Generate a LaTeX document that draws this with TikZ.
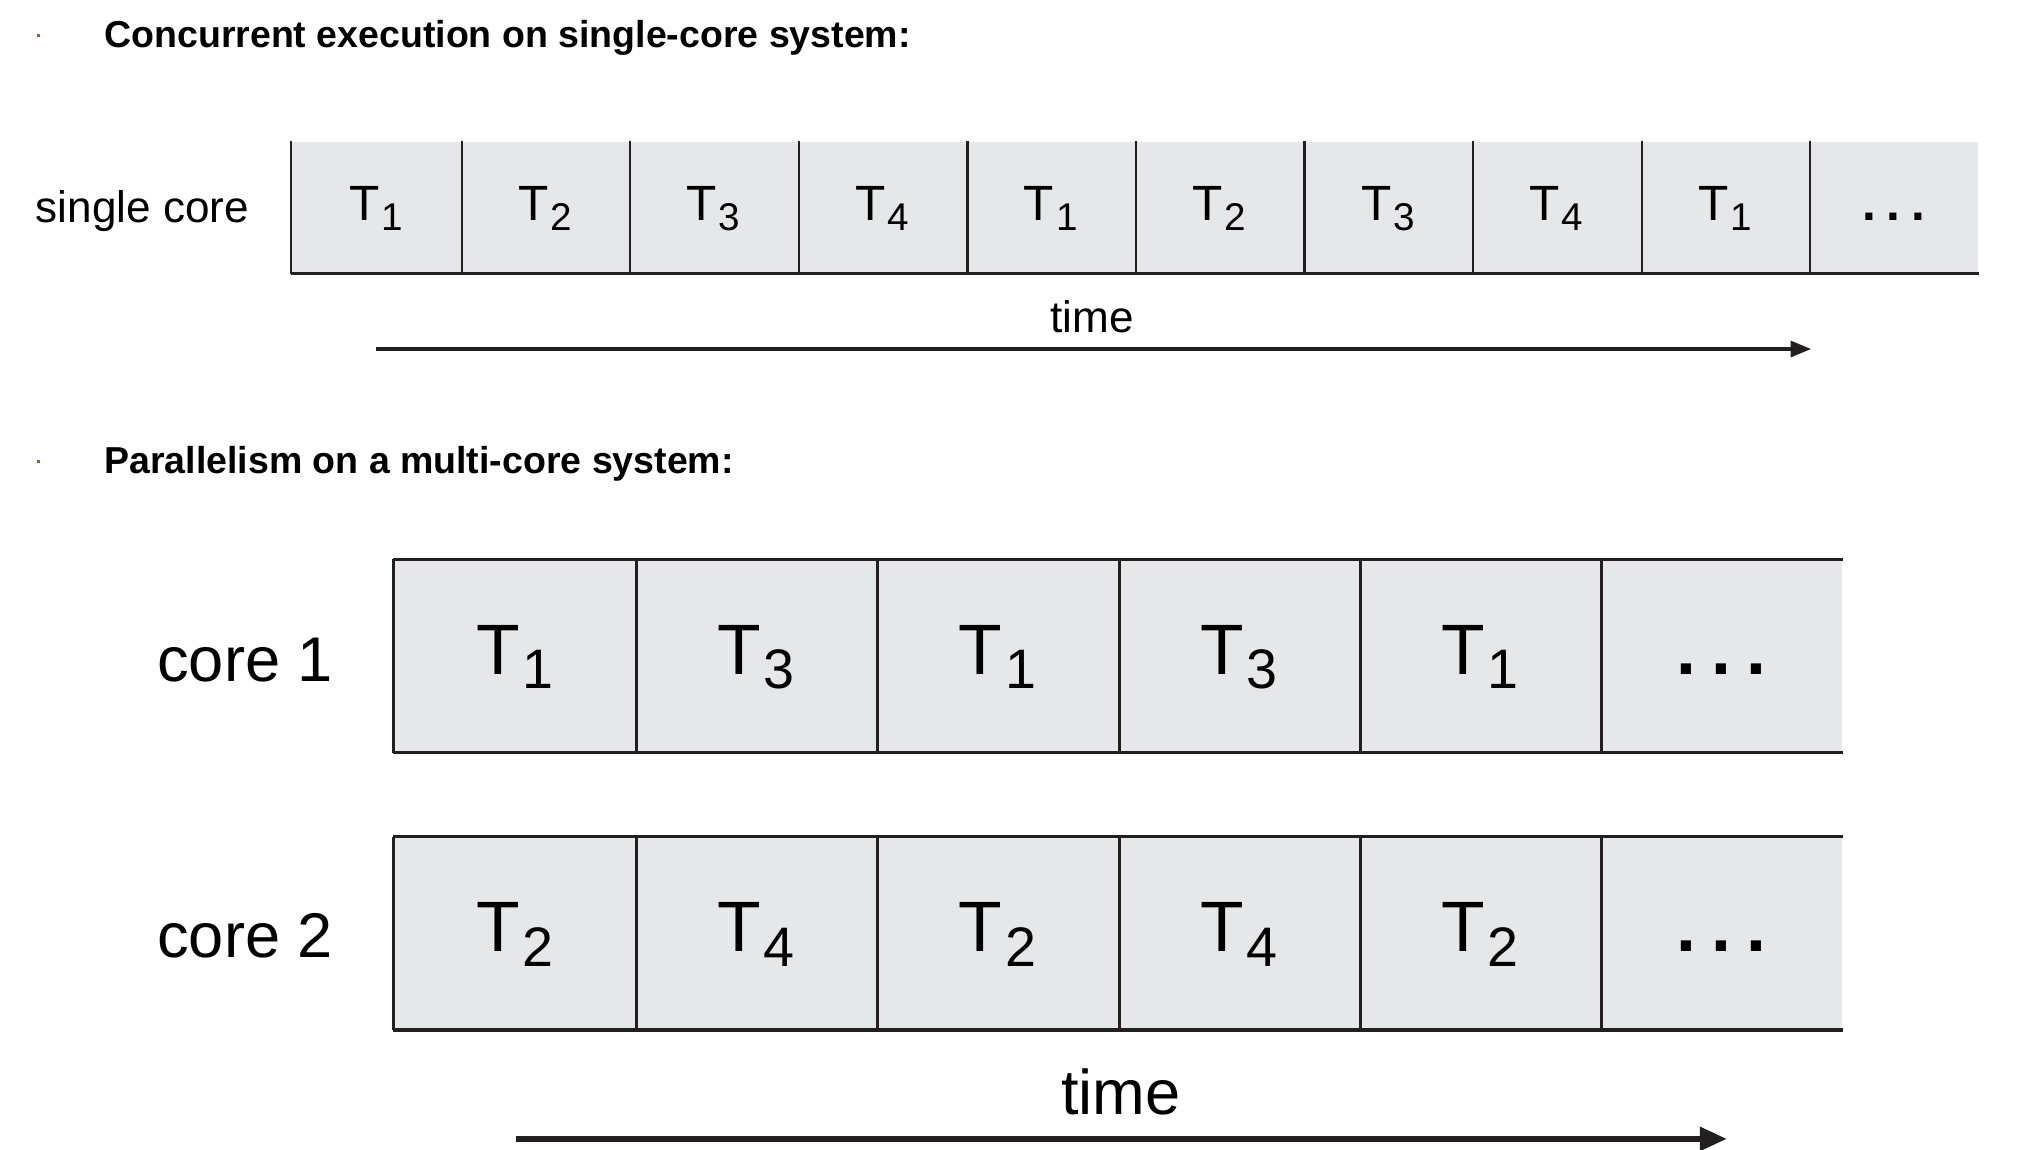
\documentclass[tikz,border=0pt]{standalone}
\usepackage{fontspec}
\setmainfont{Liberation Sans}
\usepackage{graphicx}
\usetikzlibrary{arrows.meta}
\definecolor{figline}{RGB}{35,31,32}
\definecolor{figcell}{RGB}{230,231,232}
\definecolor{figbullet}{RGB}{176,84,36}
\newcommand{\thr}[1]{T\hspace{0.04em}\raisebox{-0.2em}{\scalebox{0.78}{#1}}}
\newcommand{\dotsrow}[1]{\textbf{.\hspace{#1}.\hspace{#1}.}}
\tikzset{
  sc/.style   ={draw=figline, line width=0.5pt},
  scb/.style  ={draw=figline, line width=0.75pt},
  mc/.style   ={draw=figline, line width=0.7pt},
  cellsc/.style={fill=figcell, inner sep=0pt, minimum width=1.304cm, minimum height=1.01cm,
    text height=7.85pt, text depth=2.2pt, font=\fontsize{10.9}{12}\selectfont},
  cellmc/.style={fill=figcell, inner sep=0pt, minimum width=1.8667cm, minimum height=1.48cm,
    text height=11.3pt, text depth=3.1pt, font=\fontsize{15.7}{18}\selectfont},
  ttl/.style  ={font=\fontsize{8.25}{10}\selectfont\bfseries, inner sep=0pt, anchor=base west},
  lab/.style  ={font=\fontsize{9.7}{12}\selectfont, inner sep=0pt},
  labb/.style ={font=\fontsize{13.9}{16}\selectfont, inner sep=0pt},
  ptr/.style  ={draw=figline, line width=0.7pt, -{Triangle[length=4.5pt,width=3.5pt]}},
  ptrb/.style ={draw=figline, line width=1.4pt, -{Triangle[length=6pt,width=5pt]}},
}
\begin{document}
\begin{tikzpicture}[x=0.01cm, y=-0.01cm]
  \useasboundingbox (0,0) rectangle (1568,889);
  % headings
  \fill[figbullet] (29,26.5) rectangle (31,29);
  \node[ttl] (hd1) at (80,37) {Concurrent execution on single-core system:};
  \fill[figbullet] (29,355.5) rectangle (31,358);
  \node[ttl] (hd2) at (80,366) {Parallelism on a multi-core system:};
  % single core row
  \node[lab,anchor=base west] (lsingle) at (27,172) {single core};
  \node[cellsc] (s1) at (291.2,160.5) {\thr{1}};
  \node[cellsc] (s2) at (421.6,160.5) {\thr{2}};
  \node[cellsc] (s3) at (552,160.5) {\thr{3}};
  \node[cellsc] (s4) at (682.4,160.5) {\thr{4}};
  \node[cellsc] (s5) at (812.8,160.5) {\thr{1}};
  \node[cellsc] (s6) at (943.2,160.5) {\thr{2}};
  \node[cellsc] (s7) at (1073.6,160.5) {\thr{3}};
  \node[cellsc] (s8) at (1204,160.5) {\thr{4}};
  \node[cellsc] (s9) at (1334.4,160.5) {\thr{1}};
  \node[cellsc] (s10) at (1464.8,160.5) {\dotsrow{2.4pt}};
  \draw[scb] (s1.south west) -- (s10.south east);
  \draw[sc] (s1.south west) -- (s1.north west);
  \draw[sc] (s1.south east) -- (s1.north east);
  \draw[sc] (s2.south east) -- (s2.north east);
  \draw[sc] (s3.south east) -- (s3.north east);
  \draw[sc] (s4.south east) -- (s4.north east);
  \draw[sc] (s5.south east) -- (s5.north east);
  \draw[sc] (s6.south east) -- (s6.north east);
  \draw[sc] (s7.south east) -- (s7.north east);
  \draw[sc] (s8.south east) -- (s8.north east);
  \draw[sc] (s9.south east) -- (s9.north east);
  \node[lab,anchor=base] (ttop) at (845,257) {time};
  \coordinate (ts) at (291,270);
  \coordinate (te) at (1401,270);
  \draw[ptr] (ts) -- (te);
  % core 1 row
  \node[labb,anchor=base west] (lcore1) at (121,527) {core 1};
  \node[cellmc] (a1) at (398.3,507.5) {\thr{1}};
  \node[cellmc] (a2) at (585,507.5) {\thr{3}};
  \node[cellmc] (a3) at (771.7,507.5) {\thr{1}};
  \node[cellmc] (a4) at (958.3,507.5) {\thr{3}};
  \node[cellmc] (a5) at (1145,507.5) {\thr{1}};
  \node[cellmc] (a6) at (1331.7,507.5) {\dotsrow{3.3pt}};
  \draw[mc] (a1.north west) -- (a6.north east);
  \draw[mc] (a1.south west) -- (a6.south east);
  \draw[mc] (a1.south west) -- (a1.north west);
  \draw[mc] (a1.south east) -- (a1.north east);
  \draw[mc] (a2.south east) -- (a2.north east);
  \draw[mc] (a3.south east) -- (a3.north east);
  \draw[mc] (a4.south east) -- (a4.north east);
  \draw[mc] (a5.south east) -- (a5.north east);
  % core 2 row
  \node[labb,anchor=base west] (lcore2) at (121,741) {core 2};
  \node[cellmc] (b1) at (398.3,722) {\thr{2}};
  \node[cellmc] (b2) at (585,722) {\thr{4}};
  \node[cellmc] (b3) at (771.7,722) {\thr{2}};
  \node[cellmc] (b4) at (958.3,722) {\thr{4}};
  \node[cellmc] (b5) at (1145,722) {\thr{2}};
  \node[cellmc] (b6) at (1331.7,722) {\dotsrow{3.3pt}};
  \draw[mc] (b1.north west) -- (b6.north east);
  \draw[mc] (b1.south west) -- (b6.south east);
  \draw[mc] (b1.south west) -- (b1.north west);
  \draw[mc] (b1.south east) -- (b1.north east);
  \draw[mc] (b2.south east) -- (b2.north east);
  \draw[mc] (b3.south east) -- (b3.north east);
  \draw[mc] (b4.south east) -- (b4.north east);
  \draw[mc] (b5.south east) -- (b5.north east);
  \node[labb,anchor=base] (tbot) at (867,862) {time};
  \coordinate (bs) at (399,881);
  \coordinate (be) at (1336,881);
  \draw[ptrb] (bs) -- (be);
\end{tikzpicture}
\end{document}
